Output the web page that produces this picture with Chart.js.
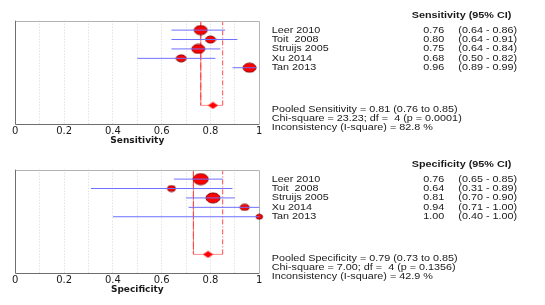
<!DOCTYPE html>
<html>
<head>
<meta charset="utf-8">
<script src="https://cdn.jsdelivr.net/npm/chart.js@4.4.1/dist/chart.umd.min.js"></script>
<style>
html, body { margin: 0; padding: 0; background: #fff; }
canvas { position: absolute; left: 0; }
#sensChart { top: 0; }
#specChart { top: 149px; }
</style>
</head>
<body>
<canvas id="sensChart" width="545" height="150"></canvas>
<canvas id="specChart" width="545" height="150"></canvas>
<script>
// studies, top to bottom
var studies = ["Leer 2010", "Toit  2008", "Struijs 2005", "Xu 2014", "Tan 2013"];
var tickLabels = ["0", "0.2", "0.4", "0.6", "0.8", "1"];

var sensEst = [0.76, 0.80, 0.75, 0.68, 0.96];
var sensLo = [0.64, 0.64, 0.64, 0.50, 0.89];
var sensHi = [0.86, 0.91, 0.84, 0.82, 0.99];
var sensWeight = [13, 10, 13, 10, 13];
var sensPooled = [0.81, 0.76, 0.85];
var sensStats = ["Pooled Sensitivity = 0.81 (0.76 to 0.85)",
                 "Chi-square = 23.23; df =  4 (p = 0.0001)",
                 "Inconsistency (I-square) = 82.8 %"];

var specEst = [0.76, 0.64, 0.81, 0.94, 1.00];
var specLo = [0.65, 0.31, 0.70, 0.71, 0.40];
var specHi = [0.85, 0.89, 0.90, 1.00, 1.00];
var specWeight = [15, 8, 14, 9, 6.5];
var specPooled = [0.79, 0.73, 0.85];
var specStats = ["Pooled Specificity = 0.79 (0.73 to 0.85)",
                 "Chi-square = 7.00; df =  4 (p = 0.1356)",
                 "Inconsistency (I-square) = 42.9 %"];

var FONT = "'Liberation Sans', Arial, sans-serif";
var POOLED_ROW = 9;

function ellipseMark(w) {
    var h = Math.round(w * 0.7);
    var c = document.createElement("canvas");
    c.width = Math.ceil(w) + 2;
    c.height = h + 2;
    var g = c.getContext("2d");
    g.beginPath();
    g.ellipse(c.width / 2, c.height / 2, w / 2, h / 2, 0, 0, Math.PI * 2);
    g.fillStyle = "#ff0000";
    g.fill();
    g.strokeStyle = "#8a0000";
    g.lineWidth = 1;
    g.stroke();
    return c;
}

function diamondMark() {
    var c = document.createElement("canvas");
    c.width = 11;
    c.height = 8;
    var g = c.getContext("2d");
    g.beginPath();
    g.moveTo(0.5, 4); g.lineTo(5.5, 0.5); g.lineTo(10.5, 4); g.lineTo(5.5, 7.5);
    g.closePath();
    g.fillStyle = "#ff0000";
    g.fill();
    return c;
}

// wide-ish text like the original picture
function wideText(ctx, text, x, y) {
    ctx.save();
    ctx.translate(x, y);
    ctx.scale(1.2, 1);
    ctx.fillText(text, 0, 0);
    ctx.restore();
}

var forestDecor = {
    id: "forestDecor",
    beforeDatasetsDraw: function (chart) {
        var ctx = chart.ctx, a = chart.chartArea;
        ctx.save();
        ctx.lineWidth = 1;
        ctx.strokeStyle = "#b4b4b4";
        ctx.beginPath();
        ctx.moveTo(a.left, Math.round(a.top) + 0.5);
        ctx.lineTo(Math.round(a.right) + 0.5, Math.round(a.top) + 0.5);
        ctx.lineTo(Math.round(a.right) + 0.5, a.bottom);
        ctx.stroke();
        ctx.strokeStyle = "#6e6e6e";
        ctx.beginPath();
        ctx.moveTo(Math.round(a.left) + 0.5, a.top);
        ctx.lineTo(Math.round(a.left) + 0.5, Math.round(a.bottom) + 0.5);
        ctx.lineTo(a.right, Math.round(a.bottom) + 0.5);
        ctx.stroke();
        ctx.restore();
    },
    afterDraw: function (chart, args, opts) {
        var ctx = chart.ctx, ys = chart.scales.y;
        ctx.save();
        ctx.fillStyle = "#1a1a1a";
        ctx.textBaseline = "middle";
        ctx.font = "bold 9px " + FONT;
        wideText(ctx, opts.header, 411.7, ys.getPixelForValue(-0.5));
        ctx.font = "9px " + FONT;
        for (var i = 0; i < studies.length; i++) {
            var py = ys.getPixelForValue(i + 1);
            wideText(ctx, studies[i], 271.7, py);
            wideText(ctx, opts.est[i].toFixed(2), 423.3, py);
            wideText(ctx, "(" + opts.lo[i].toFixed(2) + " - " + opts.hi[i].toFixed(2) + ")", 458.3, py);
        }
        for (var j = 0; j < opts.stats.length; j++) {
            wideText(ctx, opts.stats[j], 271.7, ys.getPixelForValue(POOLED_ROW + 0.4 + j));
        }
        ctx.restore();
    }
};

function makeForest(id, title, header, est, lo, hi, weight, pooled, stats) {
    var datasets = [];
    for (var i = 0; i < est.length; i++) {
        datasets.push({
            data: [{ x: lo[i], y: i + 1 }, { x: hi[i], y: i + 1 }],
            showLine: true,
            borderColor: "#6f6fff",
            borderWidth: 1,
            pointRadius: 0,
            clip: false
        });
    }
    datasets.push({
        data: est.map(function (v, i) { return { x: v, y: i + 1 }; }),
        pointStyle: weight.map(ellipseMark),
        clip: false
    });
    datasets.push({
        data: [{ x: pooled[0], y: POOLED_ROW }],
        pointStyle: diamondMark(),
        clip: false
    });
    datasets.push({
        data: [{ x: pooled[1], y: 0.15 }, { x: pooled[1], y: POOLED_ROW },
               { x: pooled[2], y: POOLED_ROW }, { x: pooled[2], y: 0.15 }],
        showLine: true,
        borderColor: "#ff4a4a",
        borderWidth: 1,
        pointRadius: 0,
        segment: {
            borderDash: function (c) { return c.p0DataIndex === 1 ? [] : [5, 2, 1, 2]; },
            borderColor: function (c) { return c.p0DataIndex === 1 ? "#ff8c8c" : "#ff4a4a"; }
        }
    });

    return new Chart(document.getElementById(id), {
        type: "scatter",
        data: { datasets: datasets },
        options: {
            responsive: false,
            animation: false,
            layout: { padding: { left: 15.3, right: 285.7, top: 20.7, bottom: 4 } },
            plugins: {
                legend: { display: false },
                tooltip: { enabled: false },
                forestDecor: { header: header, est: est, lo: lo, hi: hi, stats: stats }
            },
            scales: {
                x: {
                    type: "linear",
                    min: 0,
                    max: 1,
                    grid: {
                        drawTicks: false,
                        color: function (c) {
                            var v = c.tick ? c.tick.value : 0;
                            return (v <= 0.001 || v >= 0.999) ? "rgba(0,0,0,0)" : "#d6d6d6";
                        },
                        lineWidth: 1
                    },
                    border: { display: false, dash: [1, 2] },
                    ticks: {
                        stepSize: 0.1,
                        autoSkip: false,
                        maxRotation: 0,
                        padding: 1,
                        color: "#1a1a1a",
                        font: { family: "'DejaVu Sans'", size: 10 },
                        callback: function (v, i) { return i % 2 ? "" : tickLabels[i / 2]; }
                    },
                    title: {
                        display: true,
                        text: title,
                        color: "#1a1a1a",
                        padding: { top: -3, bottom: 0 },
                        font: { family: "'DejaVu Sans'", size: 9, weight: "bold" }
                    }
                },
                y: {
                    type: "linear",
                    display: false,
                    reverse: true,
                    min: 0,
                    max: 11
                }
            }
        },
        plugins: [forestDecor]
    });
}

makeForest("sensChart", "Sensitivity", "Sensitivity (95% CI)",
    sensEst, sensLo, sensHi, sensWeight, sensPooled, sensStats);
makeForest("specChart", "Specificity", "Specificity (95% CI)",
    specEst, specLo, specHi, specWeight, specPooled, specStats);
</script>
</body>
</html>
